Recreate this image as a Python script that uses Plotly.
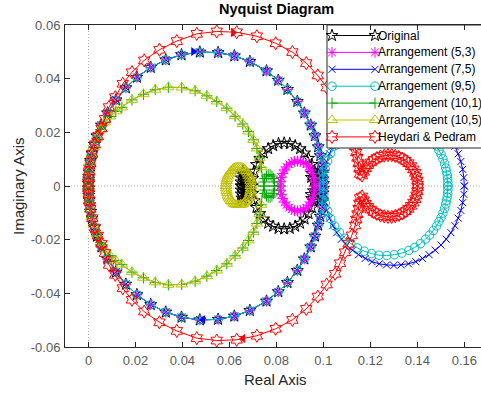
import plotly.graph_objects as go

# ---------------------------------------------------------------
# Nyquist data (upper half, positive frequencies). The lower half
# is the complex conjugate of each path.
# ---------------------------------------------------------------

# Shared outer loop of Original / (5,3) / (7,5) / (9,5)
big_arc_re = [0.0000, 0.0000, 0.0001, 0.0001, 0.0003, 0.0005, 0.0009, 0.0015, 0.0025, 0.0036,
              0.0055, 0.0081, 0.0117, 0.0159, 0.0206, 0.0265, 0.0329, 0.0396, 0.0474, 0.0552,
              0.0621, 0.0687, 0.0758, 0.0808, 0.0847, 0.0889, 0.0919, 0.0946, 0.0964, 0.0978,
              0.0987, 0.0994, 0.0997, 0.0999, 0.1000]
big_arc_im = [0.0009, 0.0018, 0.0026, 0.0035, 0.0052, 0.0070, 0.0095, 0.0121, 0.0155, 0.0187,
              0.0227, 0.0272, 0.0321, 0.0366, 0.0405, 0.0442, 0.0470, 0.0489, 0.0499, 0.0497,
              0.0485, 0.0464, 0.0429, 0.0394, 0.0360, 0.0315, 0.0272, 0.0227, 0.0187, 0.0146,
              0.0113, 0.0078, 0.0052, 0.0026, 0.0009]

# Original: inner loop with clusters near 0.097 and 0.066
orig_loop_re = [0.0990, 0.0975, 0.0958, 0.0948, 0.0950, 0.0962, 0.0978, 0.0990, 0.0994, 0.0992,
                0.0969, 0.0967, 0.0961, 0.0951, 0.0937, 0.0920, 0.0901, 0.0880, 0.0857, 0.0833,
                0.0809, 0.0786, 0.0765, 0.0746, 0.0729, 0.0715, 0.0705, 0.0699, 0.0697,
                0.0668, 0.0667, 0.0665, 0.0662, 0.0658, 0.0653, 0.0650, 0.0649, 0.0650]
orig_loop_im = [0.0005, 0.0010, 0.0018, 0.0032, 0.0047, 0.0057, 0.0056, 0.0045, 0.0030, 0.0015,
                0.0000, 0.0028, 0.0055, 0.0080, 0.0103, 0.0123, 0.0139, 0.0150, 0.0158, 0.0160,
                0.0158, 0.0150, 0.0139, 0.0123, 0.0103, 0.0080, 0.0055, 0.0028, 0.0000,
                0.0000, 0.0015, 0.0030, 0.0045, 0.0055, 0.0045, 0.0030, 0.0015, 0.0000]

# Arrangement (5,3): small loop around 0.089
a53_loop_re = [0.0963, 0.0962, 0.0959, 0.0953, 0.0946, 0.0937, 0.0927, 0.0915, 0.0903, 0.0890,
               0.0877, 0.0865, 0.0854, 0.0843, 0.0834, 0.0827, 0.0821, 0.0818, 0.0817]
a53_loop_im = [0.0000, 0.0016, 0.0032, 0.0047, 0.0060, 0.0071, 0.0081, 0.0087, 0.0092, 0.0093,
               0.0092, 0.0087, 0.0081, 0.0071, 0.0060, 0.0047, 0.0032, 0.0016, 0.0000]

# Arrangement (7,5): loop between 0.10 and 0.16
a75_loop_re = [0.1000, 0.1002, 0.1007, 0.1015, 0.1026, 0.1040, 0.1057, 0.1077, 0.1099, 0.1124,
               0.1150, 0.1178, 0.1207, 0.1238, 0.1269, 0.1300, 0.1331, 0.1362, 0.1393, 0.1422,
               0.1450, 0.1476, 0.1501, 0.1523, 0.1543, 0.1560, 0.1574, 0.1585, 0.1593, 0.1598,
               0.1600]
a75_loop_im = [0.0000, 0.0031, 0.0062, 0.0091, 0.0120, 0.0148, 0.0174, 0.0198, 0.0220, 0.0239,
               0.0256, 0.0270, 0.0282, 0.0290, 0.0294, 0.0296, 0.0294, 0.0290, 0.0282, 0.0270,
               0.0256, 0.0239, 0.0220, 0.0198, 0.0174, 0.0148, 0.0120, 0.0091, 0.0062, 0.0031,
               0.0000]

# Arrangement (9,5): loop between 0.10 and 0.153
a95_loop_re = [0.1000, 0.1002, 0.1008, 0.1018, 0.1031, 0.1048, 0.1068, 0.1091, 0.1117, 0.1145,
               0.1174, 0.1205, 0.1237, 0.1270, 0.1302, 0.1334, 0.1364, 0.1389, 0.1413, 0.1435,
               0.1452, 0.1468, 0.1482, 0.1492, 0.1501, 0.1509, 0.1516, 0.1521, 0.1524, 0.1527,
               0.1529, 0.1530, 0.1530]
a95_loop_im = [0.0000, 0.0032, 0.0063, 0.0093, 0.0122, 0.0149, 0.0173, 0.0195, 0.0215, 0.0231,
               0.0243, 0.0252, 0.0258, 0.0259, 0.0256, 0.0250, 0.0240, 0.0229, 0.0215, 0.0198,
               0.0183, 0.0166, 0.0149, 0.0133, 0.0118, 0.0101, 0.0084, 0.0067, 0.0054, 0.0041,
               0.0027, 0.0014, 0.0000]

# Shared middle loop of (10,1) / (10,5)
mid_arc_re = [0.0000, 0.0001, 0.0003, 0.0007, 0.0013, 0.0022, 0.0035, 0.0052, 0.0070, 0.0092,
              0.0116, 0.0142, 0.0185, 0.0234, 0.0284, 0.0340, 0.0397, 0.0454, 0.0504, 0.0546,
              0.0589, 0.0624, 0.0657, 0.0681, 0.0702, 0.0717, 0.0728, 0.0735]
mid_arc_im = [0.0010, 0.0030, 0.0055, 0.0085, 0.0115, 0.0145, 0.0178, 0.0210, 0.0237, 0.0259,
              0.0278, 0.0293, 0.0321, 0.0342, 0.0359, 0.0368, 0.0367, 0.0355, 0.0336, 0.0315,
              0.0290, 0.0260, 0.0231, 0.0203, 0.0172, 0.0140, 0.0105, 0.0070]

# Arrangement (10,1): small loop around 0.077
a101_loop_re = [0.0746, 0.0747, 0.0751, 0.0758, 0.0765, 0.0773, 0.0781, 0.0787, 0.0791, 0.0792]
a101_loop_im = [0.0000, 0.0015, 0.0028, 0.0037, 0.0042, 0.0042, 0.0037, 0.0028, 0.0015, 0.0000]

# Arrangement (10,5): small loop around 0.064
a105_loop_re = [0.0692, 0.0692, 0.0690, 0.0688, 0.0685, 0.0681, 0.0676, 0.0671, 0.0666, 0.0659,
                0.0653, 0.0646, 0.0639, 0.0632, 0.0625, 0.0619, 0.0613, 0.0607, 0.0602, 0.0597,
                0.0593, 0.0590, 0.0588, 0.0586, 0.0586]
a105_loop_im = [0.0000, 0.0009, 0.0018, 0.0027, 0.0036, 0.0043, 0.0050, 0.0056, 0.0061, 0.0066,
                0.0069, 0.0070, 0.0071, 0.0070, 0.0069, 0.0066, 0.0061, 0.0056, 0.0050, 0.0043,
                0.0036, 0.0027, 0.0018, 0.0009, 0.0000]

# Heydari & Pedram: outer loop and C-shaped end loop (open towards the left)
hp_arc_re = [0.0000, 0.0001, 0.0003, 0.0008, 0.0016, 0.0027, 0.0040, 0.0055, 0.0070, 0.0087,
             0.0114, 0.0146, 0.0185, 0.0237, 0.0302, 0.0376, 0.0461, 0.0546, 0.0631, 0.0717,
             0.0797, 0.0868, 0.0927, 0.0976, 0.1014, 0.1050, 0.1071, 0.1092, 0.1107, 0.1121,
             0.1135]
hp_arc_im = [0.0010, 0.0030, 0.0055, 0.0085, 0.0120, 0.0155, 0.0185, 0.0215, 0.0250, 0.0294,
             0.0331, 0.0381, 0.0424, 0.0468, 0.0508, 0.0540, 0.0567, 0.0576, 0.0573, 0.0558,
             0.0532, 0.0499, 0.0458, 0.0412, 0.0367, 0.0327, 0.0288, 0.0247, 0.0215, 0.0184,
             0.0147]
hp_loop_re = [0.1140, 0.1145, 0.1150, 0.1153, 0.1156,
              0.1165, 0.1172, 0.1180, 0.1190, 0.1202, 0.1214, 0.1228, 0.1243, 0.1259, 0.1275,
              0.1291, 0.1306, 0.1322, 0.1336, 0.1350, 0.1362, 0.1373, 0.1383, 0.1391, 0.1396,
              0.1400, 0.1402]
hp_loop_im = [0.0125, 0.0105, 0.0085, 0.0065, 0.0045,
              0.0039, 0.0053, 0.0066, 0.0078, 0.0088, 0.0097, 0.0104, 0.0110, 0.0113, 0.0115,
              0.0115, 0.0112, 0.0108, 0.0102, 0.0094, 0.0085, 0.0074, 0.0062, 0.0049, 0.0035,
              0.0020, 0.0005]

# Direction arrows (upper branch, lower branch)
arrow_blue_re = [0.0446, 0.0488]
arrow_blue_im = [0.0501, -0.0498]
arrow_red_re = [0.0616, 0.0658]
arrow_red_im = [0.0572, -0.0568]

x_ticks = [0, 0.02, 0.04, 0.06, 0.08, 0.10, 0.12, 0.14, 0.16]
x_ticktext = ["0", "0.02", "0.04", "0.06", "0.08", "0.1", "0.12", "0.14", "0.16"]
y_ticks = [-0.06, -0.04, -0.02, 0, 0.02, 0.04, 0.06]
y_ticktext = ["-0.06", "-0.04", "-0.02", "0", "0.02", "0.04", "0.06"]


def full_path(re_up, im_up):
    """Positive-frequency branch followed by its conjugate branch."""
    xs = list(re_up) + list(reversed(re_up))
    ys = list(im_up) + [-v for v in reversed(im_up)]
    return xs, ys


series = [
    ("Original", big_arc_re + orig_loop_re, big_arc_im + orig_loop_im, "#000000", "star-open", 9),
    ("Arrangement (5,3)", big_arc_re + a53_loop_re, big_arc_im + a53_loop_im, "#ff00ff", "asterisk-open", 9),
    ("Arrangement (7,5)", big_arc_re + a75_loop_re, big_arc_im + a75_loop_im, "#0000ff", "x-thin-open", 7),
    ("Arrangement (9,5)", big_arc_re + a95_loop_re, big_arc_im + a95_loop_im, "#00bfbf", "circle-open", 8.5),
    ("Arrangement (10,1)", mid_arc_re + a101_loop_re, mid_arc_im + a101_loop_im, "#00a800", "cross-thin-open", 8),
    ("Arrangement (10,5)", mid_arc_re + a105_loop_re, mid_arc_im + a105_loop_im, "#bfbf00", "triangle-up-open", 10),
    ("Heydari & Pedram", hp_arc_re + hp_loop_re, hp_arc_im + hp_loop_im, "#ff0000", "hexagram-open", 10),
]

fig = go.Figure()

for name, re_up, im_up, color, symbol, size in series:
    xs, ys = full_path(re_up, im_up)
    fig.add_trace(go.Scatter(
        x=xs, y=ys, mode="lines+markers", name=name, showlegend=False,
        line=dict(color=color, width=1),
        marker=dict(symbol=symbol, size=size, color=color, line=dict(color=color, width=1)),
    ))

for re_a, im_a, color in [(arrow_blue_re, arrow_blue_im, "#0000ff"), (arrow_red_re, arrow_red_im, "#ff0000")]:
    fig.add_trace(go.Scatter(
        x=re_a, y=im_a, mode="markers", showlegend=False, hoverinfo="skip",
        marker=dict(symbol=["triangle-right", "triangle-left"], size=8, color=color),
    ))

# ---------------------------------------------------------------
# Legend box (line sample with a marker at each end), drawn on an
# overlay axis spanning the plot area in [0, 1] coordinates.
# ---------------------------------------------------------------
PLOT_L, PLOT_R, PLOT_T, PLOT_B = 65, 481, 25, 347


def lx(px):
    return (px - PLOT_L) / (PLOT_R - PLOT_L)


def ly(py):
    return (PLOT_B - py) / (PLOT_B - PLOT_T)


box_l, box_r, box_t, box_b = lx(327), lx(490), ly(25), ly(148)
fig.add_trace(go.Scatter(
    x=[box_l, box_r, box_r, box_l, box_l], y=[box_b, box_b, box_t, box_t, box_b],
    xaxis="x2", yaxis="y2", mode="lines", fill="toself", fillcolor="white",
    line=dict(color="#262626", width=1), showlegend=False, hoverinfo="skip",
))

annotations = []
row0, row_step = 35.5, 16.9
for i, (name, _, _, color, symbol, size) in enumerate(series):
    yy = ly(row0 + i * row_step)
    fig.add_trace(go.Scatter(
        x=[lx(332), lx(375)], y=[yy, yy], xaxis="x2", yaxis="y2",
        mode="lines+markers", showlegend=False, hoverinfo="skip",
        line=dict(color=color, width=1),
        marker=dict(symbol=symbol, size=size, color=color, line=dict(color=color, width=1)),
    ))
    annotations.append(dict(
        text=name, xref="x2", yref="y2", x=lx(376), y=yy, xanchor="left", yanchor="middle",
        showarrow=False, font=dict(size=12, color="#000000"),
    ))

axis_col = "#262626"
tick_font = dict(family="Liberation Sans, Arial, sans-serif", size=13, color="#5a5a5a")

annotations += [
    dict(text="<b>Nyquist Diagram</b>", xref="paper", yref="paper", x=0.508, y=1.0497,
         xanchor="center", yanchor="middle", showarrow=False,
         font=dict(size=14.5, color="#000000")),
    dict(text="Real Axis", xref="paper", yref="paper", x=0.506, y=-0.102,
         xanchor="center", yanchor="middle", showarrow=False,
         font=dict(size=15, color=axis_col)),
    dict(text="Imaginary Axis", xref="paper", yref="paper", x=-0.113, y=0.5,
         xanchor="center", yanchor="middle", textangle=-90, showarrow=False,
         font=dict(size=15, color=axis_col)),
]

fig.update_layout(
    width=481, height=395,
    margin=dict(l=PLOT_L, r=481 - PLOT_R, t=PLOT_T, b=395 - PLOT_B, autoexpand=False),
    plot_bgcolor="white", paper_bgcolor="white",
    font=dict(family="Liberation Sans, Arial, sans-serif", color=axis_col),
    showlegend=False,
    xaxis=dict(
        range=[-0.01, 0.1671], tickvals=x_ticks, ticktext=x_ticktext,
        ticks="inside", ticklen=5, tickcolor=axis_col, tickfont=tick_font,
        showline=True, linecolor=axis_col, linewidth=1, mirror="ticks",
        showgrid=False, zeroline=False, ticklabelstandoff=1,
    ),
    yaxis=dict(
        range=[-0.06, 0.06], tickvals=y_ticks, ticktext=y_ticktext,
        ticks="inside", ticklen=5, tickcolor=axis_col, tickfont=tick_font,
        showline=True, linecolor=axis_col, linewidth=1, mirror=False,
        showgrid=False, zeroline=False, ticklabelstandoff=1,
    ),
    xaxis2=dict(overlaying="x", range=[0, 1], visible=False, fixedrange=True),
    yaxis2=dict(overlaying="y", range=[0, 1], visible=False, fixedrange=True),
    shapes=[
        dict(type="line", xref="x", yref="paper", x0=0, x1=0, y0=0, y1=1,
             line=dict(color="#b0b0b0", width=1, dash="1px,2px"), layer="below"),
        dict(type="line", xref="paper", yref="y", x0=0, x1=1, y0=0, y1=0,
             line=dict(color="#b0b0b0", width=1, dash="1px,2px"), layer="below"),
    ],
    annotations=annotations,
)

fig.write_html("out.html")
